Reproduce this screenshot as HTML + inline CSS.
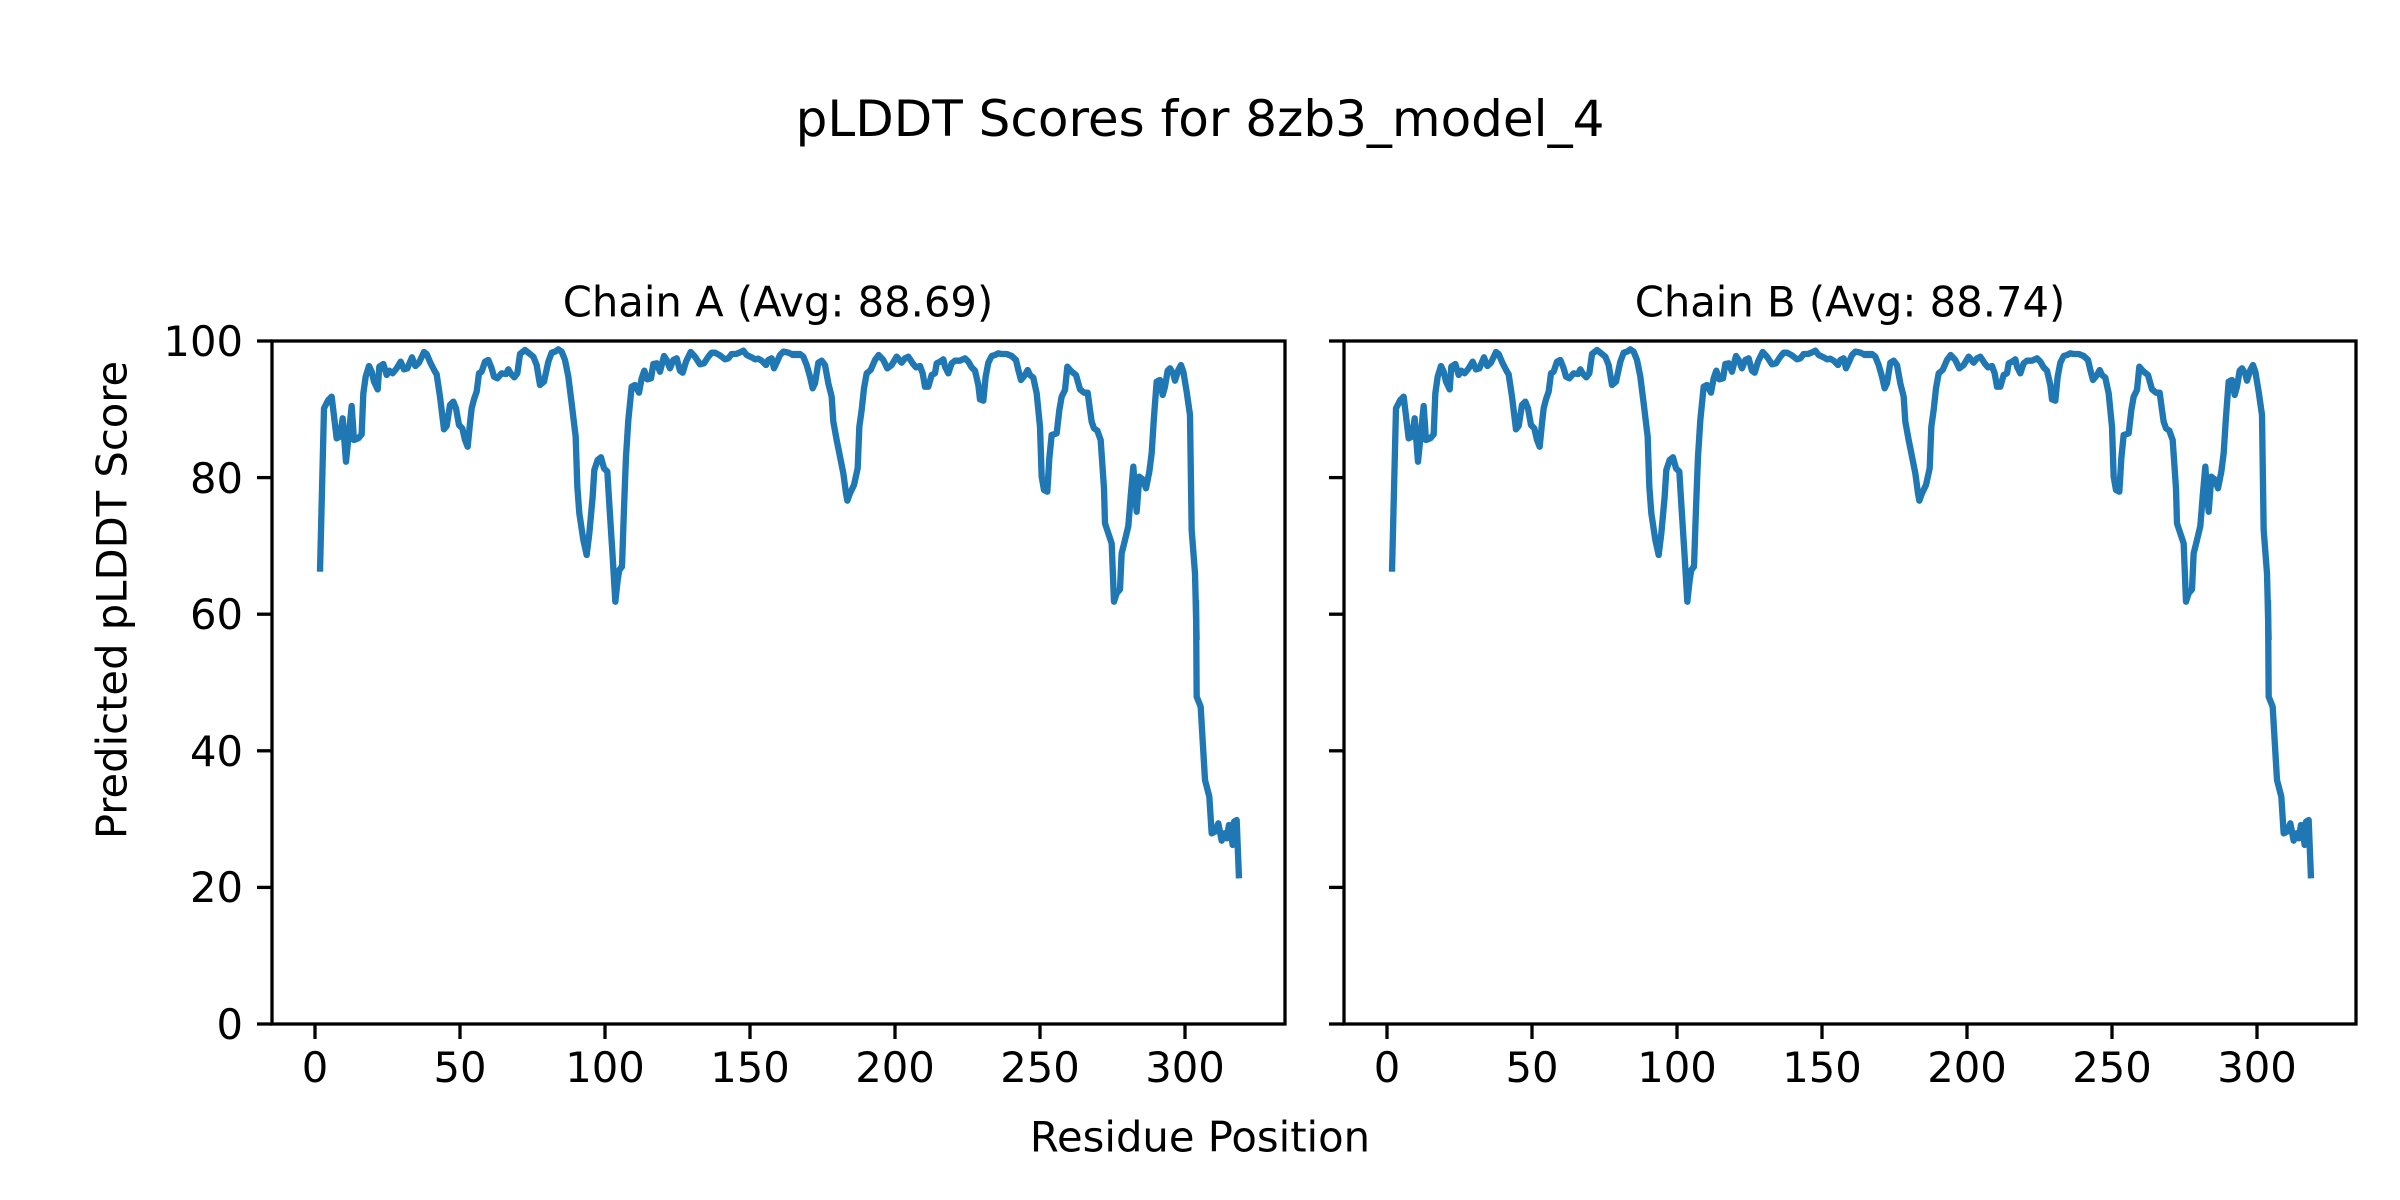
<!DOCTYPE html>
<html><head><meta charset="utf-8"><style>
html,body{margin:0;padding:0;background:#fff;}
svg{display:block;}
text{font-family:"DejaVu Sans","Liberation Sans",sans-serif;fill:#000;}
</style></head><body>
<svg width="2400" height="1200" viewBox="0 0 2400 1200" xmlns="http://www.w3.org/2000/svg">
<rect width="2400" height="1200" fill="#fff"/>
<text x="1200" y="119" font-size="50" text-anchor="middle" dominant-baseline="central">pLDDT Scores for 8zb3_model_4</text>
<text x="778" y="302" font-size="41.7" text-anchor="middle" dominant-baseline="central">Chain A (Avg: 88.69)</text>
<text x="1850" y="302" font-size="41.7" text-anchor="middle" dominant-baseline="central">Chain B (Avg: 88.74)</text>
<text x="1200" y="1137" font-size="41.7" text-anchor="middle" dominant-baseline="central">Residue Position</text>
<text transform="translate(112,600) rotate(-90)" font-size="41.7" text-anchor="middle" dominant-baseline="central">Predicted pLDDT Score</text>

<defs>
<g id="series" fill="none" stroke="#1f77b4" stroke-width="19" stroke-linejoin="round">
<g transform="translate(300,340) scale(0.33333)">
<polyline points="60,695 72,205 85,180 95,170 110,295 120,290 128,235 138,365 155,198 162,300 175,295 185,283 190,160 197,110 207,78 215,95 222,125 233,148 238,80 250,72 260,105 268,92 278,100 290,85 302,65 312,88 322,85 336,52 346,78 357,68 372,36 380,42 392,70 405,95 410,103 420,170 432,268 440,258 450,195 460,185 468,205 477,255 487,265 495,300 503,320 510,250 515,205 522,178 530,155 537,100 545,95 555,65 565,60 575,85 582,110 592,115 605,100 618,102 625,88 632,100 643,112 652,100 660,42 675,30 690,42 700,50 710,75 720,135 732,125 745,65 755,38 765,35 775,28 785,35 795,60 805,110 815,190 827,290 832,440 838,520 850,600 860,645 868,580 878,470 883,390 893,360 903,352 912,385 922,395 930,525 938,650 946,785 953,720 958,690 966,680 972,505 978,350 985,240 995,140 1005,135 1017,158 1025,115 1033,92 1042,118 1053,115 1060,72 1070,70 1080,95 1092,48 1100,60 1110,85 1120,60 1130,55 1140,92 1148,98 1158,65 1172,36 1185,50 1200,73 1212,70 1225,50 1235,38 1245,38 1258,45 1265,50 1275,58 1285,55 1295,42 1308,42 1318,38 1330,32 1340,45 1355,52 1365,58 1375,56 1385,62 1398,75 1405,60 1415,55 1422,85 1430,68 1440,45 1450,35 1465,38 1480,45 1500,45"/>
</g>
<g transform="translate(790,340) scale(0.33333)">
<polyline points="0,45 10,42 30,42 40,50 50,75 60,110 68,145 75,130 85,68 95,62 105,75 115,130 125,170 130,245 140,300 150,350 160,400 168,460 172,482 180,460 192,435 203,385 208,260 215,210 222,145 230,100 242,90 255,60 266,45 280,60 292,85 305,75 320,50 335,68 345,55 355,50 368,70 378,82 390,78 398,100 405,140 415,140 425,105 435,100 440,70 450,65 460,58 465,80 475,100 485,70 495,62 510,62 525,55 535,65 545,82 555,92 565,135 570,178 580,182 587,110 595,68 605,48 615,45 625,40 635,42 650,42 665,48 678,60 685,90 693,120 705,105 713,90 720,105 730,113 740,160 750,260 755,410 762,450 772,455 778,355 785,285 800,280 808,210 815,170 825,150 832,80 845,95 858,105 870,148 882,158 893,158 900,210 905,245 912,265 922,272 932,300 942,445 945,550 955,580 965,610 972,785 980,760 990,748 995,640 1005,600 1015,558 1022,470 1030,380 1035,455 1040,515 1048,410 1058,418 1068,445 1078,395 1085,340 1092,230 1100,125 1110,120 1118,165 1125,140 1133,92 1140,85 1150,102 1155,122 1165,90 1173,75 1180,95 1190,155 1200,225 1205,570 1215,700 1220,900"/>
</g>
<g transform="translate(1160,600) scale(0.33333)">
<polyline points="108,0 110,290 122,320 135,540 148,590 155,700 165,695 175,670 185,722 193,700 200,715 207,675 213,700 218,735 222,665 230,660 237,835"/>
</g>
</g>
<g id="yt" stroke="#000" stroke-width="3.3">
<line x1="257" y1="1024" x2="272" y2="1024"/>
<line x1="257" y1="887.4" x2="272" y2="887.4"/>
<line x1="257" y1="750.8" x2="272" y2="750.8"/>
<line x1="257" y1="614.2" x2="272" y2="614.2"/>
<line x1="257" y1="477.6" x2="272" y2="477.6"/>
<line x1="257" y1="341" x2="272" y2="341"/>
</g>
<g id="xt" stroke="#000" stroke-width="3.3">
<line x1="315" y1="1024" x2="315" y2="1039"/>
<line x1="460" y1="1024" x2="460" y2="1039"/>
<line x1="605" y1="1024" x2="605" y2="1039"/>
<line x1="750" y1="1024" x2="750" y2="1039"/>
<line x1="895" y1="1024" x2="895" y2="1039"/>
<line x1="1040" y1="1024" x2="1040" y2="1039"/>
<line x1="1185" y1="1024" x2="1185" y2="1039"/>
</g>
<g id="xl" font-size="41.7" text-anchor="middle">
<text x="315" y="1082">0</text>
<text x="460" y="1082">50</text>
<text x="605" y="1082">100</text>
<text x="750" y="1082">150</text>
<text x="895" y="1082">200</text>
<text x="1040" y="1082">250</text>
<text x="1185" y="1082">300</text>
</g>
</defs>

<use href="#series"/>
<use href="#series" transform="translate(1072,0)"/>
<use href="#yt"/>
<use href="#yt" transform="translate(1072,0)"/>
<use href="#xt"/>
<use href="#xt" transform="translate(1072,0)"/>
<use href="#xl"/>
<use href="#xl" transform="translate(1072,0)"/>

<g font-size="41.7" text-anchor="end">
<text x="243" y="1039">0</text>
<text x="243" y="902">20</text>
<text x="243" y="766">40</text>
<text x="243" y="629">60</text>
<text x="243" y="493">80</text>
<text x="243" y="356">100</text>
</g>

<rect x="272" y="341" width="1013" height="683" fill="none" stroke="#000" stroke-width="3.3"/>
<rect x="1344" y="341" width="1012" height="683" fill="none" stroke="#000" stroke-width="3.3"/>
</svg>
</body></html>
